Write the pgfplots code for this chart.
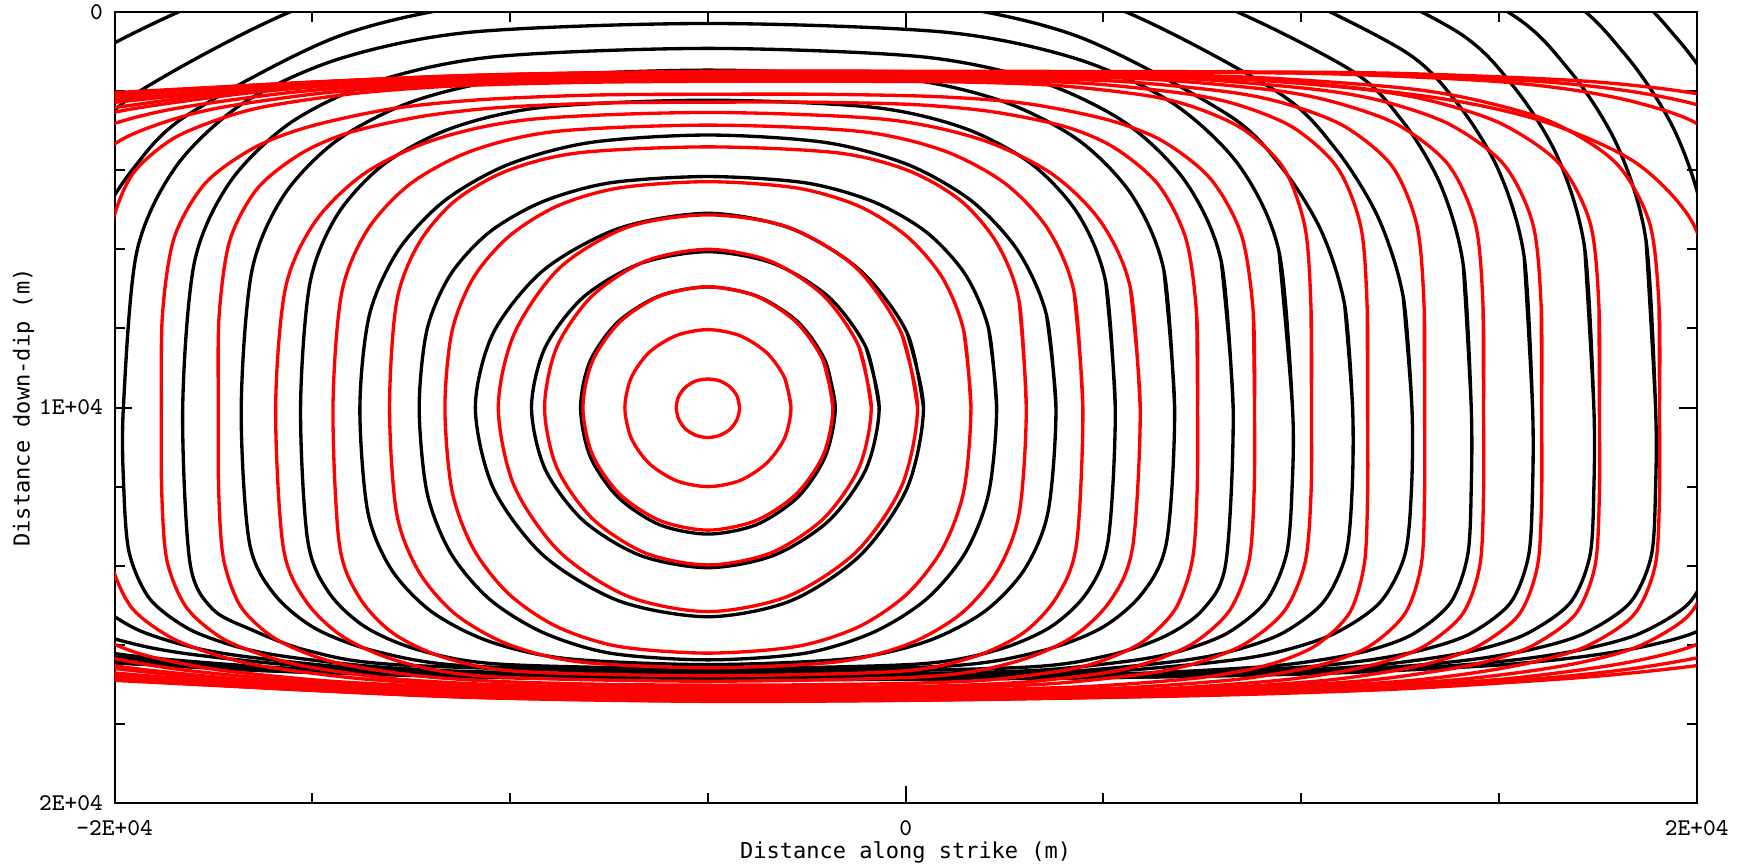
\documentclass[border=0pt]{standalone}
\usepackage{pgfplots}
\pgfplotsset{compat=1.18}
\usepackage{fontspec}
\newfontfamily\labfont{DejaVu Sans Mono}

% rupture-front contours (km), hypocentre at (-5, 10)
\pgfplotsset{
  bc/.style={black, line width=1pt, smooth, tension=0.5},
  rc/.style={red, line width=1pt, smooth, tension=0.5},
}

\begin{document}
\begin{tikzpicture}
\path[use as bounding box] (-34.4pt,-19.2pt) rectangle (490pt,240.9pt);
\begin{axis}[
  at={(0,0)}, anchor=south west,
  scale only axis, width=474.6pt, height=237.3pt,
  xmin=-20, xmax=20, ymin=0, ymax=20, y dir=reverse,
  xtick={-20,0,20}, xticklabels={-2E+04,0,2E+04},
  minor xtick={-15,-10,-5,5,10,15},
  ytick={0,10,20}, yticklabels={0,1E+04,2E+04},
  minor ytick={2,4,6,8,12,14,16,18},
  tick align=inside, tick pos=both,
  major tick length=5.2pt, minor tick length=3pt,
  every tick/.style={black, line width=0.6pt},
  axis line style={line width=0.6pt},
  ticklabel style={font=\fontsize{7.2}{8}\selectfont\ttfamily},
  xticklabel style={yshift=-1.8pt},
]
% ---------------- black contours ----------------
\addplot[bc] coordinates {(-1.78,10) (-2.03,8.83) (-2.72,7.84) (-3.77,7.18) (-5,6.95) (-6.23,7.18) (-7.28,7.84) (-7.98,8.83) (-8.22,10) (-7.98,11.23) (-7.28,12.26) (-6.23,12.96) (-5,13.2) (-3.77,12.96) (-2.72,12.26) (-2.03,11.23) (-1.78,10) (-2.03,8.83)};
\addplot[bc] coordinates {(-0.67,10) (-1.0,8.49) (-1.94,7.21) (-3.34,6.36) (-5,6.06) (-6.71,6.36) (-8.15,7.21) (-9.12,8.49) (-9.46,10) (-9.12,11.55) (-8.15,12.86) (-6.71,13.74) (-5,14.05) (-3.34,13.74) (-1.94,12.86) (-1.0,11.55) (-0.67,10) (-1.0,8.49)};
\addplot[bc] coordinates {(0.45,10) (0.04,8.12) (-1.15,6.53) (-2.91,5.47) (-5,5.09) (-7.25,5.47) (-9.16,6.53) (-10.43,8.12) (-10.88,10) (-10.43,12.03) (-9.16,13.74) (-7.25,14.89) (-5,15.29) (-2.91,14.89) (-1.15,13.74) (0.04,12.03) (0.45,10) (0.04,8.12)};
\addplot[bc] coordinates {(2.3,10) (2.10,8.02) (1.51,6.64) (0.53,5.57) (-0.81,4.80) (-2.53,4.32) (-5,4.16) (-7.48,4.32) (-9.19,4.80) (-10.53,5.57) (-11.51,6.64) (-12.10,8.02) (-12.3,10) (-12.10,12.16) (-11.51,13.67) (-10.53,14.84) (-9.19,15.68) (-7.48,16.21) (-5,16.38) (-2.53,16.21) (-0.81,15.68) (0.53,14.84) (1.51,13.67) (2.10,12.16) (2.3,10) (2.10,8.02)};
\addplot[bc] coordinates {(3.8,10) (3.56,7.66) (2.84,6.04) (1.67,4.78) (0.06,3.86) (-2.02,3.30) (-5,3.11) (-7.98,3.30) (-10.06,3.86) (-11.67,4.78) (-12.84,6.04) (-13.56,7.66) (-13.8,10) (-13.60,12.64) (-13.0,14.10) (-11.99,15.16) (-10.54,15.91) (-8.57,16.35) (-5,16.50) (-1.43,16.35) (0.54,15.91) (1.99,15.16) (3.0,14.10) (3.60,12.64) (3.8,10) (3.56,7.66)};
\addplot[bc] coordinates {(5.3,10) (5.06,6.84) (4.36,5.11) (3.18,3.84) (1.49,2.94) (-0.82,2.41) (-5,2.23) (-9.18,2.41) (-11.49,2.94) (-13.18,3.84) (-14.36,5.11) (-15.06,6.84) (-15.3,10) (-15.12,13.36) (-14.59,14.67) (-13.66,15.55) (-12.28,16.14) (-10.24,16.49) (-5,16.60) (0.24,16.49) (2.28,16.14) (3.66,15.55) (4.59,14.67) (5.12,13.36) (5.3,10) (5.06,6.84)};
\addplot[bc] coordinates {(6.8,10) (6.53,6.54) (5.72,4.63) (4.37,3.24) (2.43,2.25) (-0.21,1.67) (-5,1.47) (-9.79,1.67) (-12.43,2.25) (-14.37,3.24) (-15.72,4.63) (-16.53,6.54) (-16.8,10) (-16.60,13.38) (-15.98,14.70) (-14.92,15.59) (-13.34,16.18) (-11.0,16.54) (-5,16.65) (1.0,16.54) (3.34,16.18) (4.92,15.59) (5.98,14.70) (6.60,13.38) (6.8,10) (6.53,6.54)};
\addplot[bc] coordinates {(8.28,10) (7.98,6.31) (7.07,4.28) (5.54,2.79) (3.37,1.75) (0.39,1.13) (-5,0.92) (-10.39,1.13) (-13.37,1.75) (-15.54,2.79) (-17.07,4.28) (-17.98,6.31) (-18.28,10) (-18.10,13.90) (-17.54,15.08) (-16.56,15.61) (-15.07,16.16) (-12.73,16.51) (-5,16.70) (2.73,16.58) (5.07,16.28) (6.56,15.78) (7.54,15.08) (8.10,13.90) (8.28,10) (7.98,6.31)};
\addplot[bc] coordinates {(9.78,10) (9.44,6.06) (8.43,3.88) (6.73,2.29) (4.31,1.18) (1.0,0.51) (-5,0.29) (-11.0,0.51) (-14.31,1.18) (-16.73,2.29) (-18.43,3.88) (-19.44,6.06) (-19.78,10) (-19.77,12.03) (-19.63,13.68) (-19.11,14.84) (-18.14,15.59) (-16.97,16.03) (-15.79,16.28) (-13.57,16.54) (-11.21,16.67) (-8.10,16.73) (-5,16.75) (-1.90,16.75) (1.21,16.71) (3.57,16.63) (5.79,16.39) (6.97,16.15) (8.14,15.70) (9.11,14.90) (9.63,13.70) (9.77,12.03) (9.78,10) (9.44,6.06)};
\addplot[bc] coordinates {(11.3,10) (11.10,7.41) (10.51,5.54) (9.53,3.96) (8.17,2.61) (4.36,0.62) (0.53,-0.23) (-5,-0.52) (-10.53,-0.23) (-14.36,0.62) (-18.17,2.61) (-19.53,3.96) (-20.51,5.54) (-21.10,7.41) (-21.3,10) (-21.29,12.03) (-21.13,13.69) (-20.56,14.83) (-19.50,15.58) (-18.20,16.02) (-16.90,16.27) (-14.45,16.54) (-11.85,16.68) (-8.42,16.76) (-5,16.78) (-1.58,16.77) (1.85,16.74) (4.45,16.65) (6.90,16.41) (8.20,16.17) (9.50,15.72) (10.56,14.92) (11.13,13.72) (11.29,12.03) (11.3,10) (11.10,7.41)};
\addplot[bc] coordinates {(12.8,10) (12.58,7.20) (11.94,5.18) (10.87,3.46) (9.38,2.01) (5.22,-0.14) (1.04,-1.07) (-5,-1.38) (-11.04,-1.07) (-15.22,-0.14) (-19.38,2.01) (-20.87,3.46) (-21.94,5.18) (-22.58,7.20) (-22.8,10) (-22.79,12.04) (-22.62,13.70) (-21.99,14.85) (-20.83,15.57) (-19.42,16.0) (-17.99,16.25) (-15.32,16.53) (-12.48,16.68) (-8.74,16.78) (-5,16.80) (-1.26,16.79) (2.48,16.75) (5.32,16.66) (7.99,16.42) (9.42,16.18) (10.83,15.72) (11.99,14.93) (12.62,13.73) (12.79,12.04) (12.8,10) (12.58,7.20)};
\addplot[bc] coordinates {(14.3,10) (14.10,6.41) (13.52,4.36) (12.54,2.73) (11.16,1.41) (7.16,-0.49) (2.84,-1.28) (-5,-1.54) (-12.84,-1.28) (-17.16,-0.49) (-21.16,1.41) (-22.54,2.73) (-23.52,4.36) (-24.10,6.41) (-24.3,10) (-24.3,12.05) (-24.21,13.71) (-23.78,14.86) (-22.84,15.58) (-21.79,15.93) (-20.63,16.13) (-19.09,16.33) (-16.19,16.56) (-13.11,16.69) (-9.05,16.79) (-5,16.82) (-0.95,16.81) (3.11,16.78) (6.19,16.71) (9.09,16.55) (10.63,16.36) (11.79,16.12) (12.84,15.72) (13.78,14.93) (14.21,13.73) (14.3,12.05) (14.3,10) (14.10,6.41)};
\addplot[bc] coordinates {(15.85,10) (15.64,6.20) (15.0,4.02) (13.94,2.30) (12.46,0.90) (8.14,-1.10) (3.47,-1.94) (-5,-2.22) (-13.47,-1.94) (-18.14,-1.10) (-22.46,0.90) (-23.94,2.30) (-25.0,4.02) (-25.64,6.20) (-25.85,10) (-25.85,12.05) (-25.75,13.72) (-25.29,14.88) (-24.27,15.60) (-23.14,15.94) (-21.89,16.15) (-20.22,16.29) (-17.09,16.55) (-13.76,16.69) (-9.38,16.81) (-5,16.83) (-0.62,16.82) (3.76,16.79) (7.09,16.72) (10.22,16.55) (11.89,16.36) (13.14,16.11) (14.27,15.72) (15.29,14.94) (15.75,13.74) (15.85,12.05) (15.85,10) (15.64,6.20)};
\addplot[bc] coordinates {(17.4,10) (17.17,5.98) (16.49,3.68) (15.35,1.86) (13.75,0.38) (9.11,-1.74) (4.10,-2.62) (-5,-2.92) (-14.10,-2.62) (-19.11,-1.74) (-23.75,0.38) (-25.35,1.86) (-26.49,3.68) (-27.17,5.98) (-27.4,10) (-27.4,12.06) (-27.30,13.73) (-26.80,14.89) (-25.70,15.62) (-24.49,15.96) (-23.14,16.17) (-21.35,16.31) (-17.99,16.53) (-14.41,16.69) (-9.70,16.82) (-5,16.85) (-0.30,16.84) (4.41,16.81) (7.99,16.73) (11.35,16.56) (13.14,16.36) (14.49,16.12) (15.70,15.72) (16.80,14.94) (17.30,13.75) (17.4,12.06) (17.4,10) (17.17,5.98)};
\addplot[bc] coordinates {(18.96,10) (18.72,5.78) (17.99,3.37) (16.77,1.46) (15.06,-0.10) (10.10,-2.32) (4.73,-3.25) (-5,-3.56) (-14.73,-3.25) (-20.10,-2.32) (-25.06,-0.10) (-26.77,1.46) (-27.99,3.37) (-28.72,5.78) (-28.96,10) (-28.96,12.06) (-28.85,13.74) (-28.31,14.90) (-27.14,15.63) (-25.85,15.97) (-24.41,16.18) (-22.49,16.32) (-18.90,16.50) (-15.06,16.68) (-10.03,16.82) (-5,16.86) (0.03,16.85) (5.06,16.81) (8.90,16.73) (12.49,16.55) (14.41,16.36) (15.85,16.11) (17.14,15.72) (18.31,14.94) (18.85,13.76) (18.96,12.06) (18.96,10) (18.72,5.78)};
\addplot[bc] coordinates {(20.5,10) (20.24,5.58) (19.47,3.06) (18.17,1.05) (16.35,-0.58) (11.07,-2.90) (5.36,-3.88) (-5,-4.2) (-15.36,-3.88) (-21.07,-2.90) (-26.35,-0.58) (-28.17,1.05) (-29.47,3.06) (-30.24,5.58) (-30.5,10) (-30.5,12.06) (-30.38,13.74) (-29.81,14.91) (-28.57,15.63) (-27.19,15.98) (-25.66,16.19) (-23.62,16.33) (-19.79,16.47) (-15.71,16.67) (-10.36,16.82) (-5,16.87) (0.36,16.86) (5.71,16.82) (9.79,16.73) (13.62,16.54) (15.66,16.35) (17.19,16.10) (18.57,15.71) (19.81,14.94) (20.38,13.75) (20.5,12.06) (20.5,10) (20.24,5.58)};
\addplot[bc] coordinates {(22,10) (21.73,5.40) (20.90,2.78) (19.53,0.70) (17.60,-1.0) (12.01,-3.42) (5.97,-4.43) (-5,-4.77) (-15.97,-4.43) (-22.01,-3.42) (-27.60,-1.0) (-29.53,0.70) (-30.90,2.78) (-31.73,5.40) (-32,10) (-32,12.06) (-31.87,13.74) (-31.27,14.90) (-29.95,15.62) (-28.49,15.96) (-26.87,16.17) (-24.71,16.31) (-20.66,16.42) (-16.34,16.65) (-10.67,16.82) (-5,16.88) (0.67,16.87) (6.34,16.81) (10.66,16.72) (14.71,16.53) (16.87,16.33) (18.49,16.08) (19.95,15.69) (21.27,14.94) (21.87,13.76) (22,12.06) (22,10) (21.73,5.40)};
% ---------------- red contours ----------------
\addplot[rc] coordinates {(-4.2,10) (-4.26,9.72) (-4.43,9.49) (-4.69,9.33) (-5,9.28) (-5.31,9.33) (-5.57,9.49) (-5.74,9.72) (-5.8,10) (-5.74,10.29) (-5.57,10.54) (-5.31,10.70) (-5,10.76) (-4.69,10.70) (-4.43,10.54) (-4.26,10.29) (-4.2,10) (-4.26,9.72)};
\addplot[rc] coordinates {(-2.9,10) (-3.06,9.25) (-3.52,8.61) (-4.2,8.18) (-5,8.03) (-5.8,8.18) (-6.49,8.61) (-6.94,9.25) (-7.1,10) (-6.94,10.77) (-6.49,11.41) (-5.8,11.85) (-5,12) (-4.2,11.85) (-3.52,11.41) (-3.06,10.77) (-2.9,10) (-3.06,9.25)};
\addplot[rc] coordinates {(-1.84,10) (-2.08,8.83) (-2.77,7.84) (-3.79,7.18) (-5,6.95) (-6.21,7.18) (-7.23,7.84) (-7.92,8.83) (-8.16,10) (-7.92,11.19) (-7.23,12.19) (-6.21,12.86) (-5,13.1) (-3.79,12.86) (-2.77,12.19) (-2.08,11.19) (-1.84,10) (-2.08,8.83)};
\addplot[rc] coordinates {(-0.87,10) (-1.18,8.47) (-2.08,7.17) (-3.42,6.30) (-5,6.0) (-6.58,6.30) (-7.92,7.17) (-8.82,8.47) (-9.13,10) (-8.82,11.52) (-7.92,12.81) (-6.58,13.68) (-5,13.98) (-3.42,13.68) (-2.08,12.81) (-1.18,11.52) (-0.87,10) (-1.18,8.47)};
\addplot[rc] coordinates {(0.3,10) (-0.10,8.14) (-1.25,6.47) (-2.97,5.44) (-5,5.13) (-7.03,5.44) (-8.75,6.47) (-9.90,8.14) (-10.3,10) (-9.90,11.98) (-8.75,13.65) (-7.03,14.77) (-5,15.16) (-2.97,14.77) (-1.25,13.65) (-0.10,11.98) (0.3,10) (-0.10,8.14)};
\addplot[rc] coordinates {(1.65,10) (1.47,8.07) (0.93,6.72) (0.04,5.68) (-1.18,4.91) (-2.75,4.45) (-5,4.29) (-7.26,4.45) (-8.82,4.91) (-10.04,5.68) (-10.93,6.72) (-11.47,8.07) (-11.65,10) (-11.47,12.11) (-10.93,13.57) (-10.04,14.71) (-8.82,15.54) (-7.26,16.04) (-5,16.21) (-2.75,16.04) (-1.18,15.54) (0.04,14.71) (0.93,13.57) (1.47,12.11) (1.65,10) (1.47,8.07)};
\addplot[rc] coordinates {(3.05,10) (2.87,7.32) (2.31,5.85) (1.39,4.77) (0.07,4.01) (-1.73,3.56) (-5,3.41) (-8.27,3.56) (-10.07,4.01) (-11.39,4.77) (-12.31,5.85) (-12.87,7.32) (-13.05,10) (-12.87,12.68) (-12.31,14.15) (-11.39,15.22) (-10.07,15.98) (-8.27,16.43) (-5,16.58) (-1.73,16.43) (0.07,15.98) (1.39,15.22) (2.31,14.15) (2.87,12.68) (3.05,10) (2.87,7.32)};
\addplot[rc] coordinates {(4.48,10) (4.26,7.10) (3.61,5.51) (2.52,4.34) (0.97,3.51) (-1.15,3.02) (-5,2.86) (-8.85,3.02) (-10.97,3.51) (-12.52,4.34) (-13.61,5.51) (-14.26,7.10) (-14.48,10) (-14.32,13.45) (-13.82,14.79) (-12.97,15.70) (-11.70,16.31) (-9.82,16.67) (-5,16.78) (-0.18,16.67) (1.70,16.31) (2.97,15.70) (3.82,14.79) (4.32,13.45) (4.48,10) (4.26,7.10)};
\addplot[rc] coordinates {(5.93,10) (5.68,6.97) (4.93,5.30) (3.68,4.08) (1.89,3.22) (-0.56,2.71) (-5,2.54) (-9.44,2.71) (-11.89,3.22) (-13.68,4.08) (-14.93,5.30) (-15.68,6.97) (-15.93,10) (-15.74,13.52) (-15.17,14.89) (-14.19,15.82) (-12.73,16.44) (-10.56,16.80) (-5,16.92) (0.56,16.80) (2.73,16.44) (4.19,15.82) (5.17,14.89) (5.74,13.52) (5.93,10) (5.68,6.97)};
\addplot[rc] coordinates {(7.38,10) (7.36,7.69) (7.09,5.75) (6.39,4.37) (5.29,3.44) (4.04,2.90) (2.18,2.52) (0.20,2.34) (-2.40,2.28) (-5,2.28) (-7.60,2.30) (-10.20,2.41) (-12.18,2.63) (-14.04,3.04) (-15.29,3.58) (-16.39,4.46) (-17.09,5.78) (-17.36,7.69) (-17.38,10) (-17.37,12.11) (-17.25,13.82) (-16.82,15.02) (-16.01,15.80) (-15.03,16.26) (-14.04,16.53) (-12.18,16.80) (-10.20,16.93) (-7.60,17.0) (-5,17.02) (-2.40,17.01) (0.20,16.97) (2.18,16.88) (4.04,16.64) (5.03,16.38) (6.01,15.91) (6.82,15.09) (7.25,13.85) (7.37,12.11) (7.38,10) (7.36,7.69)};
\addplot[rc] coordinates {(8.82,10) (8.79,7.62) (8.49,5.64) (7.71,4.22) (6.49,3.26) (5.09,2.72) (3.02,2.31) (0.80,2.14) (-2.10,2.08) (-5,2.08) (-7.90,2.10) (-10.80,2.22) (-13.02,2.45) (-15.09,2.90) (-16.49,3.44) (-17.71,4.33) (-18.49,5.69) (-18.79,7.62) (-18.82,10) (-18.81,12.13) (-18.68,13.86) (-18.19,15.05) (-17.29,15.83) (-16.19,16.28) (-15.09,16.56) (-13.02,16.85) (-10.80,16.99) (-7.90,17.07) (-5,17.09) (-2.10,17.08) (0.80,17.04) (3.02,16.94) (5.09,16.70) (6.19,16.43) (7.29,15.95) (8.19,15.13) (8.68,13.89) (8.81,12.13) (8.82,10) (8.79,7.62)};
\addplot[rc] coordinates {(10.26,10) (10.25,7.53) (10.10,5.46) (9.57,3.97) (8.57,2.99) (7.36,2.43) (6.14,2.12) (3.85,1.86) (1.41,1.77) (-1.80,1.75) (-5,1.75) (-8.20,1.78) (-11.41,1.87) (-13.85,2.05) (-16.14,2.38) (-17.36,2.71) (-18.57,3.23) (-19.57,4.13) (-20.10,5.51) (-20.25,7.53) (-20.26,10) (-20.25,12.14) (-20.10,13.87) (-19.57,15.06) (-18.57,15.82) (-17.36,16.28) (-16.14,16.56) (-13.85,16.85) (-11.41,17.01) (-8.20,17.11) (-5,17.13) (-1.80,17.13) (1.41,17.08) (3.85,16.97) (6.14,16.72) (7.36,16.46) (8.57,15.98) (9.57,15.15) (10.10,13.91) (10.25,12.14) (10.26,10) (10.25,7.53)};
\addplot[rc] coordinates {(11.68,10) (11.67,7.51) (11.51,5.44) (10.92,3.94) (9.83,2.94) (8.51,2.38) (7.18,2.08) (4.67,1.81) (2.01,1.72) (-1.50,1.70) (-5,1.70) (-8.50,1.73) (-12.01,1.84) (-14.67,2.04) (-17.18,2.39) (-18.51,2.71) (-19.83,3.23) (-20.92,4.12) (-21.51,5.50) (-21.67,7.51) (-21.68,10) (-21.68,12.15) (-21.60,13.89) (-21.23,15.08) (-20.41,15.78) (-19.51,16.18) (-18.51,16.43) (-17.18,16.66) (-14.67,16.91) (-12.01,17.05) (-8.50,17.15) (-5,17.18) (-1.50,17.17) (2.01,17.13) (4.67,17.05) (7.18,16.86) (8.51,16.66) (9.51,16.40) (10.41,15.99) (11.23,15.18) (11.60,13.93) (11.68,12.15) (11.68,10) (11.67,7.51)};
\addplot[rc] coordinates {(13.12,10) (13.11,7.50) (12.93,5.41) (12.30,3.90) (11.11,2.90) (9.68,2.34) (8.23,2.03) (5.51,1.76) (2.61,1.67) (-1.20,1.65) (-5,1.65) (-8.80,1.69) (-12.61,1.81) (-15.51,2.03) (-18.23,2.40) (-19.68,2.72) (-21.11,3.22) (-22.30,4.08) (-22.93,5.47) (-23.11,7.50) (-23.12,10) (-23.12,12.17) (-23.04,13.92) (-22.63,15.10) (-21.75,15.83) (-20.76,16.17) (-19.68,16.41) (-18.23,16.64) (-15.51,16.91) (-12.61,17.08) (-8.81,17.19) (-5,17.23) (-1.20,17.22) (2.61,17.17) (5.51,17.09) (8.23,16.89) (9.68,16.68) (10.76,16.43) (11.75,16.02) (12.63,15.20) (13.04,13.95) (13.12,12.17) (13.12,10) (13.11,7.50)};
\addplot[rc] coordinates {(14.61,10) (14.60,7.48) (14.41,5.38) (13.72,3.86) (12.44,2.85) (10.88,2.29) (9.32,1.98) (6.37,1.71) (3.24,1.62) (-0.88,1.60) (-5,1.60) (-9.12,1.64) (-13.24,1.78) (-16.37,2.02) (-19.32,2.41) (-20.88,2.73) (-22.44,3.17) (-23.72,4.04) (-24.41,5.44) (-24.60,7.48) (-24.61,10) (-24.61,12.18) (-24.52,13.95) (-24.08,15.14) (-23.12,15.87) (-22.06,16.20) (-20.88,16.39) (-19.32,16.62) (-16.37,16.91) (-13.24,17.10) (-9.12,17.23) (-5,17.28) (-0.88,17.26) (3.24,17.21) (6.37,17.12) (9.32,16.91) (10.88,16.70) (12.06,16.44) (13.12,16.03) (14.08,15.22) (14.52,13.98) (14.61,12.18) (14.61,10) (14.60,7.48)};
\addplot[rc] coordinates {(16.08,10) (16.07,7.48) (15.86,5.37) (15.12,3.85) (13.75,2.84) (12.08,2.26) (10.39,1.96) (7.23,1.69) (3.85,1.60) (-0.57,1.57) (-5,1.57) (-9.43,1.63) (-13.85,1.79) (-17.23,2.05) (-20.39,2.47) (-22.08,2.71) (-23.75,3.16) (-25.12,4.03) (-25.86,5.43) (-26.07,7.48) (-26.08,10) (-26.08,12.19) (-25.98,13.96) (-25.51,15.16) (-24.48,15.89) (-23.34,16.23) (-22.08,16.42) (-20.39,16.56) (-17.23,16.89) (-13.85,17.10) (-9.43,17.26) (-5,17.30) (-0.57,17.29) (3.85,17.23) (7.23,17.13) (10.39,16.92) (12.08,16.70) (13.34,16.44) (14.48,16.03) (15.51,15.23) (15.98,13.98) (16.08,12.19) (16.08,10) (16.07,7.48)};
\addplot[rc] coordinates {(17.54,10) (17.53,7.47) (17.31,5.35) (16.52,3.83) (15.05,2.82) (13.26,2.24) (11.45,1.94) (8.07,1.67) (4.47,1.57) (-0.27,1.55) (-5,1.55) (-9.73,1.62) (-14.47,1.80) (-18.07,2.08) (-21.45,2.45) (-23.26,2.69) (-25.05,3.14) (-26.52,4.01) (-27.31,5.42) (-27.53,7.47) (-27.54,10) (-27.54,12.20) (-27.43,13.98) (-26.93,15.18) (-25.83,15.91) (-24.61,16.26) (-23.26,16.45) (-21.45,16.59) (-18.07,16.87) (-14.47,17.10) (-9.73,17.28) (-5,17.33) (-0.27,17.31) (4.47,17.24) (8.07,17.13) (11.45,16.92) (13.26,16.69) (14.61,16.44) (15.83,16.03) (16.93,15.23) (17.43,14.0) (17.54,12.20) (17.54,10) (17.53,7.47)};
\addplot[rc] coordinates {(19.06,10) (19.05,7.47) (18.81,5.34) (17.97,3.83) (16.40,2.81) (14.49,2.24) (12.56,1.92) (8.96,1.66) (5.11,1.56) (0.05,1.54) (-5,1.54) (-10.05,1.61) (-15.11,1.82) (-18.96,2.12) (-22.56,2.44) (-24.49,2.69) (-26.40,3.13) (-27.97,4.01) (-28.81,5.41) (-29.05,7.47) (-29.06,10) (-29.06,12.21) (-28.95,14.0) (-28.41,15.21) (-27.23,15.94) (-25.93,16.28) (-24.49,16.48) (-22.56,16.62) (-18.96,16.83) (-15.11,17.10) (-10.05,17.29) (-5,17.36) (0.05,17.33) (5.11,17.26) (8.96,17.14) (12.56,16.92) (14.49,16.69) (15.93,16.42) (17.23,16.03) (18.41,15.24) (18.95,14.0) (19.06,12.21) (19.06,10) (19.05,7.47)};
\addplot[rc] coordinates {(20.5,10) (20.45,7.46) (19.90,5.33) (18.46,3.81) (16.20,2.79) (13.62,2.20) (9.79,1.77) (5.71,1.60) (0.36,1.52) (-5,1.52) (-10.36,1.60) (-15.71,1.87) (-19.79,2.25) (-23.62,2.65) (-26.20,3.11) (-28.46,3.98) (-29.90,5.40) (-30.45,7.46) (-30.5,10) (-30.5,12.22) (-30.38,14.0) (-29.81,15.23) (-28.57,15.96) (-27.19,16.31) (-25.66,16.50) (-23.62,16.65) (-19.79,16.81) (-15.71,17.10) (-10.36,17.31) (-5,17.39) (0.36,17.36) (5.71,17.28) (9.79,17.15) (13.62,16.91) (15.66,16.68) (17.19,16.42) (18.57,16.02) (19.81,15.24) (20.38,14.01) (20.5,12.22) (20.5,10) (20.45,7.46)};
\addplot[rc] coordinates {(22,10) (22,7.46) (21.87,5.33) (21.27,3.81) (19.95,2.79) (18.49,2.29) (16.87,1.97) (14.71,1.74) (10.66,1.56) (6.34,1.52) (0.67,1.51) (-5,1.51) (-10.67,1.60) (-16.34,1.84) (-20.66,2.17) (-24.71,2.30) (-26.87,2.46) (-28.49,2.71) (-29.95,3.11) (-31.27,3.98) (-31.87,5.39) (-32,7.46) (-32,10) (-32,12.22) (-31.87,14.01) (-31.27,15.24) (-29.95,15.98) (-28.49,16.33) (-26.87,16.52) (-24.71,16.66) (-20.66,16.77) (-16.34,17.08) (-10.67,17.32) (-5,17.41) (0.67,17.38) (6.34,17.29) (10.66,17.14) (14.71,16.90) (16.87,16.66) (18.49,16.40) (19.95,16.01) (21.27,15.25) (21.87,14.02) (22,12.22) (22,10) (22,7.46)};
\addplot[rc] coordinates {(23.5,10) (23.5,7.46) (23.37,5.33) (22.73,3.81) (21.34,2.79) (19.80,2.29) (18.09,1.97) (15.81,1.74) (11.53,1.56) (6.97,1.52) (0.99,1.51) (-5,1.51) (-10.99,1.61) (-16.97,1.88) (-21.53,2.17) (-25.81,2.30) (-28.09,2.46) (-29.80,2.71) (-31.34,3.11) (-32.73,3.98) (-33.37,5.39) (-33.5,7.46) (-33.5,10) (-33.5,12.23) (-33.37,14.02) (-32.73,15.25) (-31.34,15.99) (-29.80,16.34) (-28.09,16.53) (-25.81,16.67) (-21.53,16.78) (-16.97,17.05) (-10.99,17.32) (-5,17.42) (0.99,17.39) (6.97,17.28) (11.53,17.13) (15.81,16.87) (18.09,16.64) (19.80,16.37) (21.34,16.02) (22.73,15.25) (23.37,14.03) (23.5,12.23) (23.5,10) (23.5,7.46)};
\addplot[rc] coordinates {(25,10) (25,7.46) (24.86,5.32) (24.19,3.80) (22.72,2.78) (21.1,2.28) (19.3,1.96) (16.9,1.73) (12.4,1.55) (7.6,1.51) (1.3,1.50) (-5,1.50) (-11.3,1.61) (-17.6,1.91) (-22.4,2.16) (-26.9,2.29) (-29.3,2.45) (-31.1,2.70) (-32.72,3.10) (-34.19,3.97) (-34.86,5.39) (-35,7.46) (-35,10) (-35,12.23) (-34.86,14.03) (-34.19,15.25) (-32.72,16.0) (-31.1,16.35) (-29.3,16.54) (-26.9,16.68) (-22.4,16.79) (-17.6,17.02) (-11.3,17.32) (-5,17.43) (1.3,17.39) (7.6,17.28) (12.4,17.12) (16.9,16.84) (19.3,16.61) (21.1,16.37) (22.72,16.03) (24.19,15.26) (24.86,14.03) (25,12.23) (25,10) (25,7.46)};
\end{axis}
\node[font=\fontsize{6.6}{8}\selectfont\labfont, rotate=90] at (-27.3pt,118.65pt) {Distance down-dip (m)};
\node[font=\fontsize{6.6}{8}\selectfont\labfont] at (237.3pt,-14.7pt) {Distance along strike (m)};
\end{tikzpicture}
\end{document}
